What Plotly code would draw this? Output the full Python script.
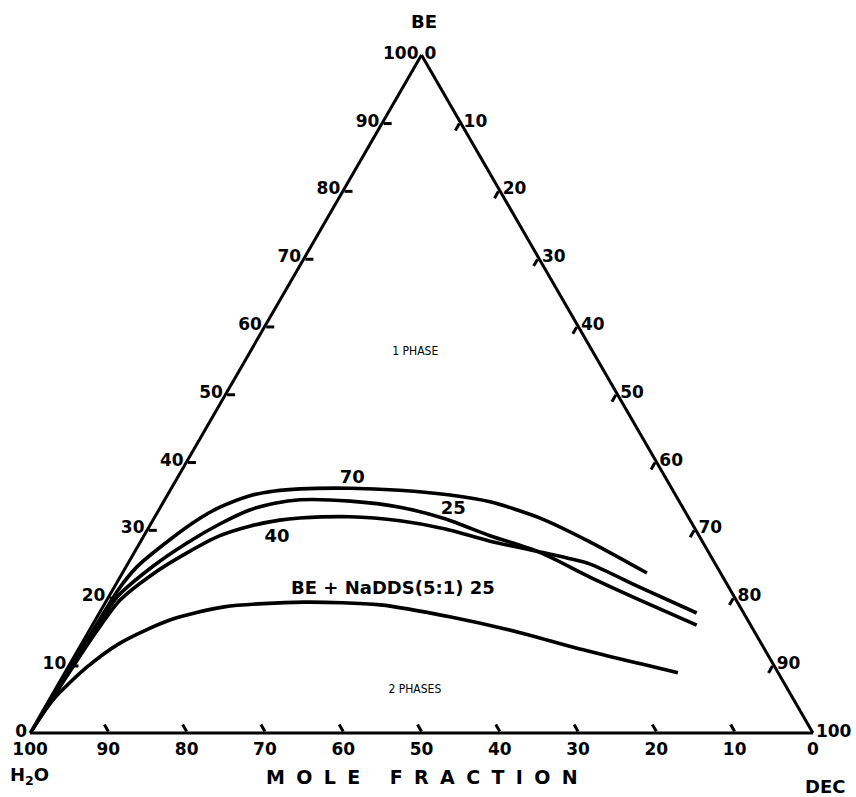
import plotly.graph_objects as go

# ---- data (mole %) ----
# curve labelled "70"
BE_70 = [0, 10, 16, 21.1, 24.5, 28.5, 31.7, 33.3, 35.0, 35.7, 36.0, 36.1, 35.8, 35.1, 34.1, 31.7, 28.2, 23.6]
DEC_70 = [0, 0.3, 0.5, 0.7, 1.4, 3.6, 5.9, 7.6, 10.6, 13.4, 16.5, 22.8, 29.3, 36.1, 41.7, 49.3, 57.4, 67.0]
# curve labelled "25"
BE_25 = [0, 10, 15, 20.1, 24.6, 28.0, 30.9, 32.9, 33.9, 34.4, 34.2, 33.3, 31.6, 29.1, 26.6, 23.0, 19.6, 15.9]
DEC_25 = [0, 0.4, 0.7, 1.1, 3.4, 6.0, 8.9, 11.6, 14.3, 17.3, 23.8, 30.6, 37.2, 44.2, 51.9, 60.0, 68.1, 77.2]
# curve labelled "40"
BE_40 = [0, 10, 15, 19.6, 23.5, 26.6, 29.1, 30.5, 31.4, 31.7, 31.9, 31.3, 30.1, 28.3, 26.7, 25.8, 24.9, 21.5, 17.7]
DEC_40 = [0, 0.6, 1.0, 1.7, 4.0, 6.8, 9.7, 12.8, 16.2, 18.6, 24.9, 31.6, 38.0, 44.6, 51.8, 55.7, 59.1, 67.1, 76.3]
# curve "BE + NaDDS(5:1) 25"
BE_NADDS = [0, 4.9, 9.7, 13.3, 16.7, 18.6, 19.3, 18.9, 17.1, 14.8, 12.5, 8.9]
DEC_NADDS = [0, 0.5, 2.4, 4.9, 9.6, 15.5, 25.3, 35.3, 45.2, 55.2, 63.6, 78.3]

# in-plot labels
LABEL_TEXT = ["70", "25", "40", "BE + NaDDS(5:1) 25"]
LABEL_BE = [37.5, 32.9, 28.9, 21.1]
LABEL_DEC = [22.4, 37.6, 17.1, 35.8]
REGION_TEXT = ["1 PHASE", "2 PHASES"]
REGION_BE = [56.2, 6.3]
REGION_DEC = [21.1, 46.0]

TICK_VALS = [0, 10, 20, 30, 40, 50, 60, 70, 80, 90, 100]

W, H = 856, 797
FONT = "DejaVu Sans"

fig = go.Figure()


def h2o(be, dec):
    return [100 - a - c for a, c in zip(be, dec)]


for be, dec in [(BE_70, DEC_70), (BE_25, DEC_25), (BE_40, DEC_40), (BE_NADDS, DEC_NADDS)]:
    fig.add_trace(go.Scatterternary(
        a=be, b=h2o(be, dec), c=dec, mode="lines",
        line=dict(color="black", width=3.6, shape="spline", smoothing=0.75),
        hoverinfo="skip", showlegend=False))

fig.add_trace(go.Scatterternary(
    a=LABEL_BE, b=h2o(LABEL_BE, LABEL_DEC), c=LABEL_DEC, mode="text",
    text=LABEL_TEXT, textposition="middle center",
    textfont=dict(family=FONT, size=18, color="black", weight="bold"),
    hoverinfo="skip", showlegend=False))

fig.add_trace(go.Scatterternary(
    a=REGION_BE, b=h2o(REGION_BE, REGION_DEC), c=REGION_DEC, mode="text",
    text=REGION_TEXT, textposition="middle center",
    textfont=dict(family="DejaVu Sans Condensed", size=12, color="black"),
    hoverinfo="skip", showlegend=False))

axis = dict(
    title=dict(text=""),
    showgrid=False, showline=True, linecolor="black", linewidth=3,
    ticks="inside", ticklen=8, tickwidth=2.5, tickcolor="black",
    tickmode="array", tickvals=TICK_VALS, min=0,
    tickfont=dict(family=FONT, size=17, color="black", weight="bold"),
)

fig.update_layout(
    width=W, height=H,
    margin=dict(l=0, r=0, t=0, b=0),
    paper_bgcolor="white",
    ternary=dict(
        sum=100,
        bgcolor="white",
        domain=dict(x=[30 / W, 813 / W], y=[1 - 733 / H, 1 - 55 / H]),
        aaxis=axis, baxis=axis, caxis=axis,
    ),
)


def spaced(s, sep):
    return sep.join(s)


titles = [
    ("BE", 424, 21, 18),
    ("H<sub>2</sub>O", 30, 776, 18),
    ("DEC", 825, 786, 18),
    (spaced("MOLE FRACTION", "\u2009\u2009\u2009"), 422, 777, 19),
]
for txt, px, py, sz in titles:
    fig.add_annotation(
        text=txt, x=px / W, y=1 - py / H, xref="paper", yref="paper",
        showarrow=False, xanchor="center", yanchor="middle",
        font=dict(family=FONT, size=sz, color="black", weight="bold"))

fig.write_html(
    "out.html",
    config={"displayModeBar": False},
    post_script="document.body.style.margin='0';document.body.style.padding='0';",
)
